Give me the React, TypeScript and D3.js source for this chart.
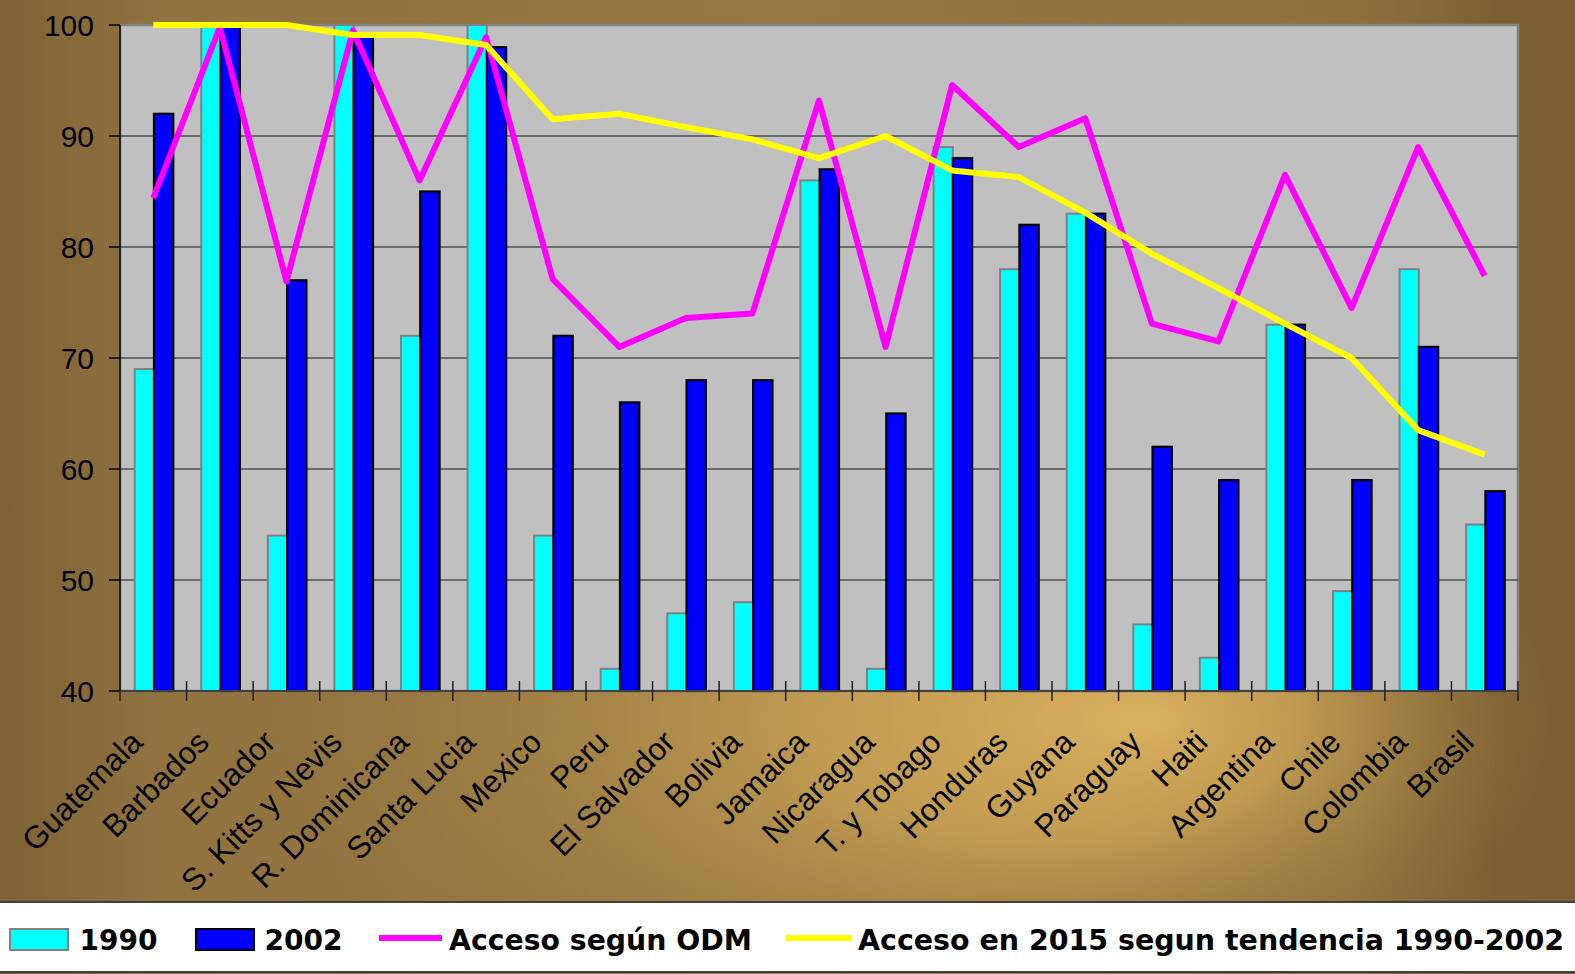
import React from "react";
import * as d3 from "d3";

const categories = ["Guatemala","Barbados","Ecuador","S. Kitts y Nevis","R. Dominicana","Santa Lucia","Mexico","Peru","El Salvador","Bolivia","Jamaica","Nicaragua","T. y Tobago","Honduras","Guyana","Paraguay","Haiti","Argentina","Chile","Colombia","Brasil"];
const values1990 = [69,100,54,100,72,100,54,42,47,48,86,42,89,78,83,46,43,73,49,78,55];
const values2002 = [92,100,77,99,85,98,72,66,68,68,87,65,88,82,83,62,59,73,59,71,58];
const accesoODM = [84.4,99.8,76.9,99.5,86.0,98.9,77.1,71.0,73.6,74.0,93.2,71.0,94.6,89.0,91.6,73.1,71.5,86.5,74.5,89.0,77.4];
const accesoTendencia = [100,100,100,99.1,99.1,98.2,91.5,92.0,90.8,89.7,88.0,90.0,86.9,86.3,83.1,79.4,76.3,73.1,70.0,63.5,61.3];
const yTicks = [40,50,60,70,80,90,100];
const legendLabels = ["1990","2002","Acceso según ODM","Acceso en 2015 segun tendencia 1990-2002"];

const W = 1575, H = 974;
const L = 120, R = 1518, T = 25, B = 691;

export default function App() {
  const x = d3.scaleBand<string>().domain(categories).range([L, R]).padding(0);
  const y = d3.scaleLinear().domain([40, 100]).range([B, T]);
  const bw = x.bandwidth();
  const barW = bw * 0.29;
  const off = (bw - 2 * barW) / 2 + 0.7;
  const cx = (c: string) => (x(c) as number) + bw / 2;
  const line = d3.line<number>().x((_, i) => cx(categories[i])).y((v) => y(v));

  return (
    <svg width={W} height={H} style={{ position: "absolute", left: 0, top: 0 }} fontFamily="'Liberation Sans', Arial, sans-serif">
      <defs>
        <linearGradient id="bgBase" x1={0} x2={W} y1={0} y2={0} gradientUnits="userSpaceOnUse">
          <stop offset="0" stopColor="#7d6233" />
          <stop offset="0.1" stopColor="#917340" />
          <stop offset="0.5" stopColor="#967741" />
          <stop offset="0.86" stopColor="#8f713d" />
          <stop offset="0.95" stopColor="#7b6132" />
          <stop offset="1" stopColor="#7a6030" />
        </linearGradient>
        <radialGradient id="bgGlow" gradientUnits="userSpaceOnUse" cx={880} cy={720} r={680} fx={1150} fy={720}
          gradientTransform="translate(0,720) scale(1,0.5) translate(0,-720)">
          <stop offset="0" stopColor="#dab05f" stopOpacity={1} />
          <stop offset="0.35" stopColor="#c9a255" stopOpacity={0.85} />
          <stop offset="1" stopColor="#937440" stopOpacity={0} />
        </radialGradient>
      </defs>
      <rect x={0} y={0} width={W} height={H} fill="url(#bgBase)" />
      <rect x={0} y={0} width={W} height={H} fill="url(#bgGlow)" />
      {/* plot area */}
      <rect x={L} y={T} width={R - L} height={B - T} fill="#c0c0c0" stroke="#808080" strokeWidth={2.5} />
      {yTicks.slice(1, -1).map((t) => (
        <line key={t} x1={L} x2={R} y1={y(t)} y2={y(t)} stroke="#505050" strokeWidth={1.5} />
      ))}
      {/* bars */}
      {categories.map((c, i) => (
        <g key={c}>
          <rect x={(x(c) as number) + off} y={y(values1990[i])} width={barW} height={B - y(values1990[i])} fill="#00ffff" stroke="#808080" strokeWidth={2} />
          <rect x={(x(c) as number) + off + barW} y={y(values2002[i])} width={barW} height={B - y(values2002[i])} fill="#0000ff" stroke="#000" strokeWidth={2.2} />
        </g>
      ))}
      {/* axes */}
      <line x1={L} x2={L} y1={T} y2={B} stroke="#000" strokeWidth={1.5} />
      <line x1={L} x2={R} y1={B} y2={B} stroke="#404040" strokeWidth={2} />
      {yTicks.map((t) => (
        <g key={t}>
          <line x1={L - 11} x2={L} y1={y(t)} y2={y(t)} stroke="#000" strokeWidth={1.5} />
          <text x={94} y={y(t) + 11} textAnchor="end" fontSize={30} fill="#000">{t}</text>
        </g>
      ))}
      {d3.range(categories.length + 1).map((i) => {
        const xx = L + i * bw;
        return <line key={i} x1={xx} x2={xx} y1={B - 10} y2={B + 10} stroke="#202020" strokeWidth={1.5} />;
      })}
      {categories.map((c) => (
        <text key={c} transform={`translate(${cx(c) - 9},${744}) rotate(-45)`} textAnchor="end" fontSize={31.5} fill="#000">{c}</text>
      ))}
      {/* lines */}
      <path d={line(accesoODM) || ""} fill="none" stroke="#ff00ff" strokeWidth={6} strokeLinejoin="round" />
      <path d={line(accesoTendencia) || ""} fill="none" stroke="#ffff00" strokeWidth={6} strokeLinejoin="round" />
      {/* legend */}
      <rect x={0} y={902} width={W} height={70} fill="#fff" />
      <line x1={0} x2={W} y1={902} y2={902} stroke="#404040" strokeWidth={2} />
      <line x1={0} x2={W} y1={972} y2={972} stroke="#404040" strokeWidth={2} />
      <g fontFamily="'DejaVu Sans', Verdana, sans-serif" fontWeight="bold" fontSize={28} fill="#000">
        <rect x={10} y={929} width={58} height={21} fill="#00ffff" stroke="#808080" strokeWidth={2} />
        <text x={79.5} y={950} textLength={78} lengthAdjust="spacingAndGlyphs">{legendLabels[0]}</text>
        <rect x={196} y={929} width={58} height={21} fill="#0000ff" stroke="#000" strokeWidth={2} />
        <text x={264.5} y={950} textLength={78} lengthAdjust="spacingAndGlyphs">{legendLabels[1]}</text>
        <line x1={379} x2={442} y1={938} y2={938} stroke="#ff00ff" strokeWidth={6} />
        <text x={449} y={950} textLength={303} lengthAdjust="spacingAndGlyphs">{legendLabels[2]}</text>
        <line x1={786} x2={852} y1={938} y2={938} stroke="#ffff00" strokeWidth={6} />
        <text x={858} y={950} textLength={706} lengthAdjust="spacingAndGlyphs">{legendLabels[3]}</text>
      </g>
    </svg>
  );
}
